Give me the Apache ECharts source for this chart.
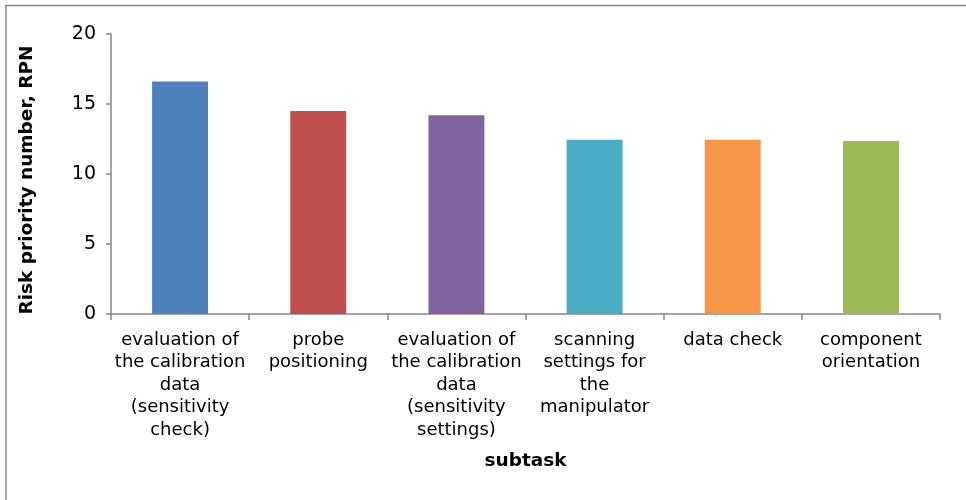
<!DOCTYPE html>
<html>
<head>
<meta charset="utf-8">
<script src="https://cdn.jsdelivr.net/npm/echarts@6/dist/echarts.min.js"></script>
<style>
html,body{margin:0;padding:0;background:#fff;}
#chart{width:966px;height:500px;}
</style>
</head>
<body>
<div id="chart"></div>
<script>
const categories = [
  "evaluation of\nthe calibration\ndata\n(sensitivity\ncheck)",
  "probe\npositioning",
  "evaluation of\nthe calibration\ndata\n(sensitivity\nsettings)",
  "scanning\nsettings for\nthe\nmanipulator",
  "data check",
  "component\norientation"
];
const rpnValues = [16.6, 14.5, 14.2, 12.45, 12.45, 12.35];
const barColors = ["#4F81BD", "#C0504D", "#8064A2", "#4BACC6", "#F79646", "#9BBB59"];
const yTicks = [0, 5, 10, 15, 20];
const xTitle = "subtask";
const yTitle = "Risk priority number, RPN";

const chart = echarts.init(document.getElementById('chart'), null, {renderer: 'canvas'});
const FONT = "DejaVu Sans";
chart.setOption({
  animation: false,
  backgroundColor: '#ffffff',
  graphic: [{
    type: 'rect',
    shape: {x: 6, y: 5.5, width: 1000, height: 600},
    style: {fill: 'none', stroke: '#868686', lineWidth: 1.5},
    silent: true
  }],
  grid: {left: 111, right: 26, top: 34, bottom: 186, containLabel: false},
  xAxis: {
    type: 'category',
    data: categories,
    axisLine: {lineStyle: {color: '#868686', width: 1.5}},
    axisTick: {show: true, length: 6, alignWithLabel: false, lineStyle: {color: '#868686', width: 1.5}},
    axisLabel: {
      interval: 0, color: '#000', fontFamily: FONT, fontSize: 18,
      lineHeight: 22.5, margin: 15, align: 'center'
    },
    name: xTitle,
    nameLocation: 'middle',
    nameGap: 138,
    nameTextStyle: {fontFamily: FONT, fontSize: 18.5, fontWeight: 'bold', color: '#000'}
  },
  yAxis: {
    type: 'value',
    min: yTicks[0], max: yTicks[yTicks.length - 1], interval: 5,
    splitLine: {show: false},
    axisLine: {show: true, lineStyle: {color: '#868686', width: 1.5}},
    axisTick: {show: true, length: 5, lineStyle: {color: '#868686', width: 1.5}},
    axisLabel: {color: '#000', fontFamily: FONT, fontSize: 19, margin: 15},
    name: yTitle,
    nameLocation: 'middle',
    nameGap: 74,
    nameRotate: 90,
    nameTextStyle: {fontFamily: FONT, fontSize: 18.5, fontWeight: 'bold', color: '#000', padding: [0, 12, 0, 0]}
  },
  series: [{
    type: 'bar',
    data: rpnValues.map((v, i) => ({value: v, itemStyle: {color: barColors[i]}})),
    barWidth: '40.5%'
  }]
});
</script>
</body>
</html>
